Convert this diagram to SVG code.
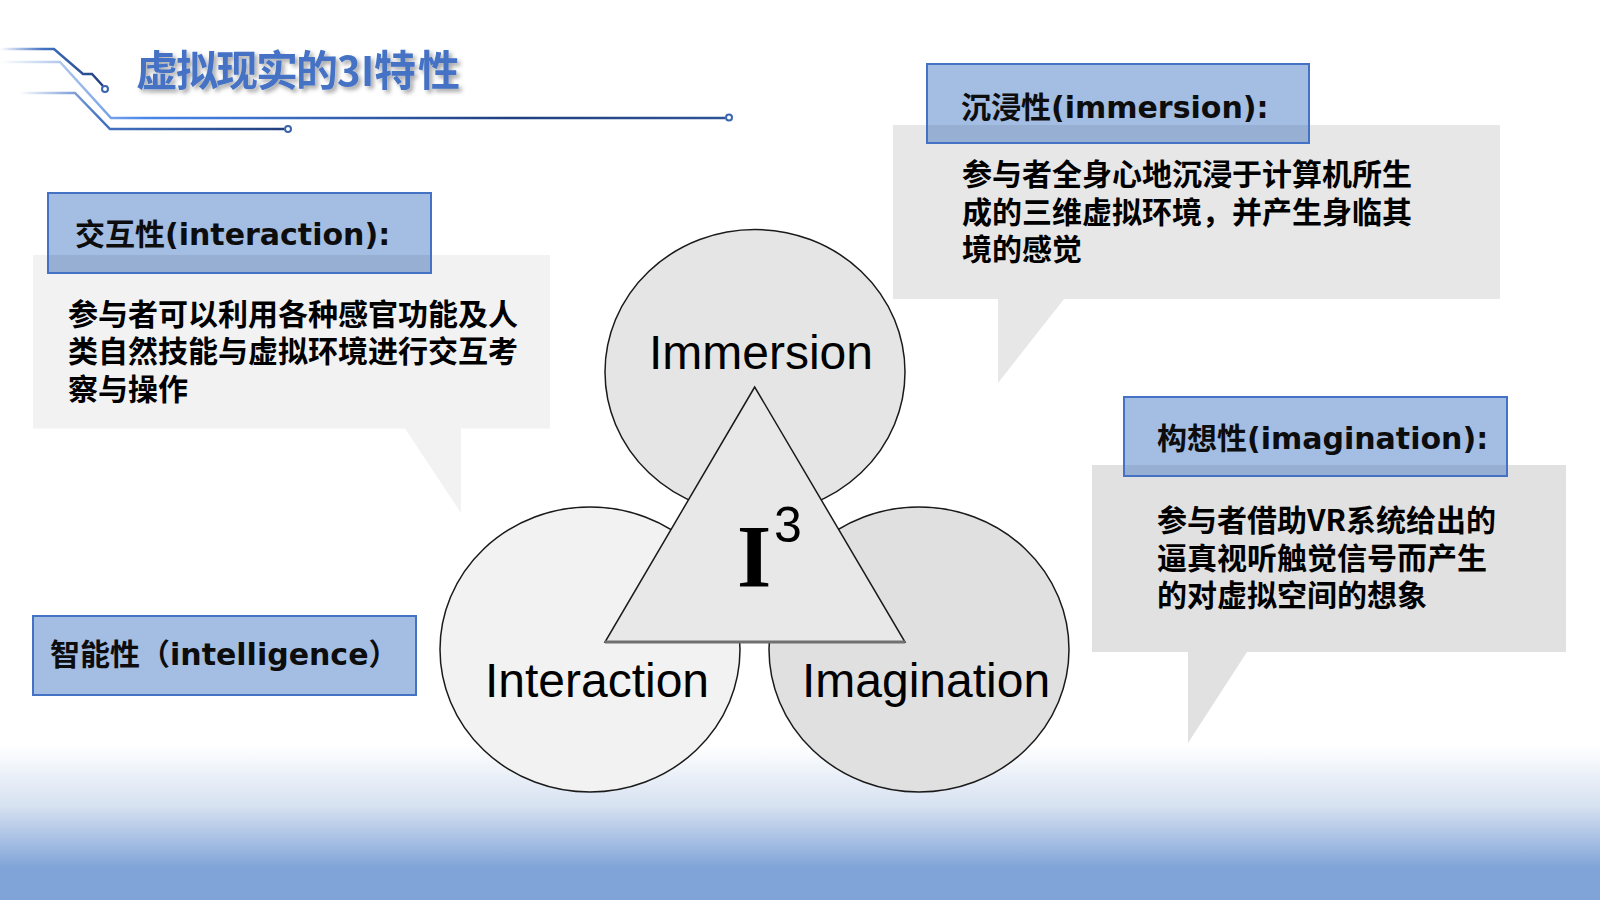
<svg xmlns="http://www.w3.org/2000/svg" width="1600" height="900" viewBox="0 0 1600 900">
<defs>
<linearGradient id="bg" x1="0" y1="745" x2="0" y2="868" gradientUnits="userSpaceOnUse">
<stop offset="0" stop-color="#ffffff"/>
<stop offset="0.5" stop-color="#d6e1f1"/>
<stop offset="1" stop-color="#80a4d8"/>
</linearGradient>
<linearGradient id="gA" x1="0" y1="0" x2="106" y2="0" gradientUnits="userSpaceOnUse">
<stop offset="0" stop-color="#ffffff"/>
<stop offset="0.4" stop-color="#4472c4"/>
<stop offset="1" stop-color="#1f3d7a"/>
</linearGradient>
<linearGradient id="gB" x1="0" y1="0" x2="730" y2="0" gradientUnits="userSpaceOnUse">
<stop offset="0" stop-color="#ffffff"/>
<stop offset="0.08" stop-color="#b4c9ec"/>
<stop offset="0.2" stop-color="#4a86e8"/>
<stop offset="0.7" stop-color="#1f3f80"/>
<stop offset="1" stop-color="#2f5597"/>
</linearGradient>
<linearGradient id="gC" x1="19" y1="0" x2="289" y2="0" gradientUnits="userSpaceOnUse">
<stop offset="0" stop-color="#ffffff"/>
<stop offset="0.3" stop-color="#4472c4"/>
<stop offset="1" stop-color="#1f3d7a"/>
</linearGradient>
<filter id="shadow" x="-10%" y="-30%" width="120%" height="160%">
<feDropShadow dx="3" dy="3" stdDeviation="2" flood-color="#000" flood-opacity="0.35"/>
</filter>
</defs>
<style>
.hdr{fill:#a3bde3;stroke:#4472c4;stroke-width:2}
.band{fill:#000;opacity:0.07}
.hdr-t{font-family:"DejaVu Sans","Noto Sans CJK SC",sans-serif;font-weight:bold;font-size:30px;fill:#0d0d0d}
.body-t{font-family:"Noto Sans CJK SC",sans-serif;font-weight:bold;font-size:30px;fill:#000}
.lbl{font-family:"Liberation Sans",Arial,sans-serif;font-size:48px;fill:#000;text-anchor:middle}
.ell{stroke:#1a1a1a;stroke-width:1.5}
.wire{fill:none;stroke-width:2.5}
.term{fill:#fff;stroke:#3a64b0;stroke-width:2}
</style>
<rect x="0" y="0" width="1600" height="900" fill="#ffffff"/>
<rect x="0" y="740" width="1600" height="160" fill="url(#bg)"/>

<g id="decor">
<path class="wire" stroke="url(#gA)" d="M0,49 H54 L83,74 H92 L103,86"/>
<circle class="term" cx="105" cy="89" r="3"/>
<path class="wire" stroke="url(#gB)" d="M0,62 H60 L111,118 H725"/>
<circle class="term" cx="729" cy="117.5" r="3"/>
<path class="wire" stroke="url(#gC)" d="M19,93 H75 L110,129 H284"/>
<circle class="term" cx="288" cy="129" r="3"/>
</g>

<g id="title">
<text y="85.5" font-family="'Noto Sans CJK SC',sans-serif" font-weight="bold" font-size="42" fill="#4472c4" filter="url(#shadow)"><tspan x="136 176 216 256 296">虚拟现实的</tspan><tspan x="337 361" font-size="40">3I</tspan><tspan x="374 418">特性</tspan></text>
</g>

<g id="connectors"></g>

<g id="callout-interaction">
<path fill="#f2f2f2" d="M33,255 H550 V428.5 H461 V513 L405,428.5 H33 Z"/>
<text class="body-t" x="68" y="324.5">参与者可以利用各种感官功能及人</text>
<text class="body-t" x="68" y="362">类自然技能与虚拟环境进行交互考</text>
<text class="body-t" x="68" y="399.5">察与操作</text>
</g>
<g id="header-interaction">
<rect class="hdr" x="48" y="193" width="383" height="80"/>
<rect class="band" x="49" y="255" width="381" height="17"/>
<text class="hdr-t" x="75" y="245">交互性(interaction):</text>
</g>

<g id="callout-immersion">
<path fill="#e7e7e7" d="M893,125 H1500 V299 H1064 L998,383 V299 H893 Z"/>
<text class="body-t" x="962" y="185">参与者全身心地沉浸于计算机所生</text>
<text class="body-t" x="962" y="222.5">成的三维虚拟环境，并产生身临其</text>
<text class="body-t" x="962" y="260">境的感觉</text>
</g>
<g id="header-immersion">
<rect class="hdr" x="927" y="64" width="382" height="79"/>
<rect class="band" x="928" y="125" width="380" height="17"/>
<text class="hdr-t" x="961" y="118">沉浸性(immersion):</text>
</g>

<g id="callout-imagination">
<path fill="#e1e1e1" d="M1092,465 H1566 V652 H1247 L1188,743 V652 H1092 Z"/>
<text class="body-t" x="1157" y="531">参与者借助VR系统给出的</text>
<text class="body-t" x="1157" y="568.5">逼真视听触觉信号而产生</text>
<text class="body-t" x="1157" y="606">的对虚拟空间的想象</text>
</g>
<g id="header-imagination">
<rect class="hdr" x="1124" y="397" width="383" height="79"/>
<rect class="band" x="1125" y="465" width="381" height="10"/>
<text class="hdr-t" x="1157" y="449">构想性(imagination):</text>
</g>

<g id="header-intelligence">
<rect class="hdr" x="33" y="616" width="383" height="79"/>
<text class="hdr-t" x="50" y="665">智能性（intelligence）</text>
</g>

<g id="node-immersion">
<ellipse class="ell" cx="755" cy="372" rx="150" ry="142.5" fill="#e5e5e5"/>
<text class="lbl" x="761" y="369">Immersion</text>
</g>
<g id="node-interaction">
<ellipse class="ell" cx="590" cy="649.5" rx="150" ry="142.5" fill="#f2f2f2"/>
<text class="lbl" x="597" y="697">Interaction</text>
</g>
<g id="node-imagination">
<ellipse class="ell" cx="919" cy="649.5" rx="150" ry="142.5" fill="#e0e0e0"/>
<text class="lbl" x="926" y="697">Imagination</text>
</g>
<g id="node-i3">
<polygon points="754.7,387 605,642 905,642" fill="#e8e8e8" stroke="#1a1a1a" stroke-width="1.5" stroke-linejoin="miter"/>
<line x1="605" y1="642" x2="905" y2="642" stroke="#707070" stroke-width="3"/>
<text x="754" y="586" font-family="'Liberation Serif','Times New Roman',serif" font-weight="bold" font-size="88" text-anchor="middle" fill="#000">I</text>
<text x="788" y="542" font-family="'Liberation Sans',Arial,sans-serif" font-size="50" text-anchor="middle" fill="#000">3</text>
</g>
</svg>
